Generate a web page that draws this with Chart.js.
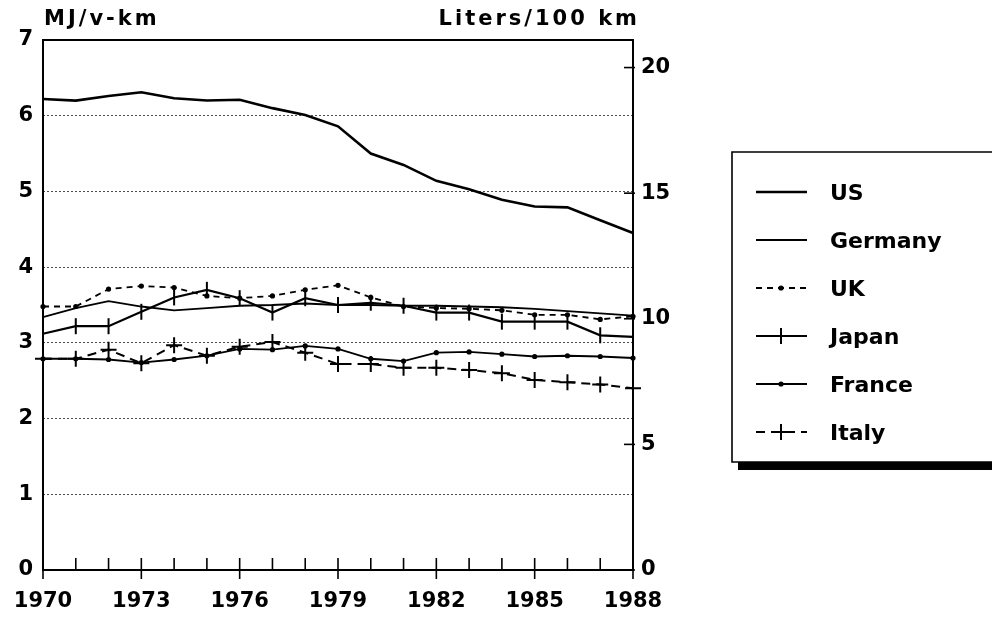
<!DOCTYPE html>
<html>
<head>
<meta charset="utf-8">
<script src="https://cdn.jsdelivr.net/npm/chart.js@4/dist/chart.umd.min.js"></script>
<style>
html,body{margin:0;padding:0;background:#fff;}
#wrap{width:992px;height:621px;}
</style>
</head>
<body>
<div id="wrap"><canvas id="c" width="992" height="621"></canvas></div>
<script>
const years = [1970,1971,1972,1973,1974,1975,1976,1977,1978,1979,1980,1981,1982,1983,1984,1985,1986,1987,1988];
const usValues      = [6.22,6.20,6.26,6.31,6.23,6.20,6.21,6.10,6.01,5.86,5.50,5.35,5.14,5.03,4.89,4.80,4.79,4.62,4.45];
const germanyValues = [3.34,3.46,3.55,3.48,3.43,3.46,3.49,3.50,3.52,3.50,3.50,3.49,3.49,3.48,3.47,3.45,3.42,3.39,3.36];
const ukValues      = [3.48,3.48,3.71,3.75,3.73,3.62,3.59,3.62,3.70,3.76,3.60,3.48,3.46,3.45,3.43,3.37,3.37,3.31,3.35];
const japanValues   = [3.12,3.22,3.22,3.41,3.60,3.70,3.59,3.40,3.59,3.50,3.53,3.49,3.40,3.40,3.28,3.28,3.28,3.10,3.08];
const franceValues  = [2.79,2.79,2.78,2.74,2.78,2.83,2.92,2.91,2.96,2.92,2.79,2.76,2.87,2.88,2.85,2.82,2.83,2.82,2.80];
const italyValues   = [2.79,2.79,2.91,2.73,2.97,2.83,2.95,3.01,2.87,2.72,2.72,2.67,2.67,2.64,2.60,2.51,2.48,2.45,2.40];
const seriesNames = ['US','Germany','UK','Japan','France','Italy'];
const leftTicks  = [0,1,2,3,4,5,6,7];
const rightTicks = [0,5,10,15,20];
const leftTitle = 'MJ/v-km';
const rightTitle = 'Liters/100 km';
const MJ_PER_LITER_KM = 0.3318; // 1 L/100km in MJ/km

const FONT = 'DejaVu Sans';
Chart.defaults.font.family = FONT;
Chart.defaults.color = '#000';

const black = '#000';
const datasets = [
  {label: seriesNames[0], data: usValues, borderColor: black, borderWidth: 2.6, pointRadius: 0, tension: 0},
  {label: seriesNames[1], data: germanyValues, borderColor: black, borderWidth: 1.8, pointRadius: 0},
  {label: seriesNames[2], data: ukValues, borderColor: black, borderWidth: 1.8, borderDash: [6,5],
    pointStyle: 'circle', pointRadius: 2.6, pointBackgroundColor: black, pointBorderColor: black, pointBorderWidth: 0},
  {label: seriesNames[3], data: japanValues, borderColor: black, borderWidth: 2.2,
    pointStyle: 'line', pointRotation: 90, pointRadius: 8, pointBorderColor: black, pointBorderWidth: 2},
  {label: seriesNames[4], data: franceValues, borderColor: black, borderWidth: 1.8,
    pointStyle: 'circle', pointRadius: 2.6, pointBackgroundColor: black, pointBorderColor: black, pointBorderWidth: 0},
  {label: seriesNames[5], data: italyValues, borderColor: black, borderWidth: 2, borderDash: [9,6],
    pointStyle: 'cross', pointRadius: 8, pointBorderColor: black, pointBorderWidth: 2}
];
datasets.forEach(d => { d.fill = false; d.clip = false; d.yAxisID = 'y'; d.pointHoverRadius = d.pointRadius; });

function drawMarker(ctx, ds, x, y) {
  ctx.save();
  ctx.setLineDash([]);
  ctx.strokeStyle = black; ctx.fillStyle = black;
  if (ds.pointStyle === 'circle' && ds.pointRadius > 0) {
    ctx.beginPath(); ctx.arc(x, y, ds.pointRadius, 0, Math.PI*2); ctx.fill();
  } else if (ds.pointStyle === 'line') {
    ctx.lineWidth = ds.pointBorderWidth;
    ctx.beginPath(); ctx.moveTo(x, y - ds.pointRadius); ctx.lineTo(x, y + ds.pointRadius); ctx.stroke();
  } else if (ds.pointStyle === 'cross') {
    ctx.lineWidth = ds.pointBorderWidth;
    ctx.beginPath(); ctx.moveTo(x, y - ds.pointRadius); ctx.lineTo(x, y + ds.pointRadius);
    ctx.moveTo(x - ds.pointRadius, y); ctx.lineTo(x + ds.pointRadius, y); ctx.stroke();
  }
  ctx.restore();
}

const decor = {
  id: 'decor',
  afterDatasetsDraw(chart) {
    const {ctx, chartArea: a, scales} = chart;
    const xs = scales.x, y2 = scales.y2;
    ctx.save();
    // frame
    ctx.strokeStyle = black; ctx.lineWidth = 2; ctx.setLineDash([]);
    ctx.strokeRect(a.left, a.top, a.right - a.left, a.bottom - a.top);
    // x ticks
    ctx.lineWidth = 1.6;
    years.forEach((yr, i) => {
      const px = xs.getPixelForValue(i);
      const major = (yr - years[0]) % 3 === 0;
      ctx.beginPath();
      ctx.moveTo(px, a.bottom - 12);
      ctx.lineTo(px, a.bottom + (major ? 9 : 0));
      ctx.stroke();
    });
    // right ticks
    rightTicks.forEach(v => {
      const py = y2.getPixelForValue(v);
      ctx.beginPath(); ctx.moveTo(a.right - 9, py); ctx.lineTo(a.right + 2, py); ctx.stroke();
    });
    // titles
    ctx.fillStyle = black;
    ctx.font = 'bold 21px ' + FONT;
    ctx.letterSpacing = '3px';
    ctx.textBaseline = 'alphabetic';
    ctx.textAlign = 'left';
    ctx.fillText(leftTitle, a.left + 1, 25);
    ctx.textAlign = 'right';
    ctx.fillText(rightTitle, a.right + 7, 25);
    ctx.letterSpacing = '0px';
    // legend
    const bx = 732, by = 152, bb = 462;
    ctx.lineWidth = 1.6;
    ctx.beginPath();
    ctx.moveTo(1000, by); ctx.lineTo(bx, by); ctx.lineTo(bx, bb); ctx.lineTo(1000, bb);
    ctx.stroke();
    ctx.fillRect(bx + 6, bb, 1000, 8);
    ctx.font = 'bold 22px ' + FONT;
    ctx.textAlign = 'left';
    ctx.textBaseline = 'middle';
    chart.data.datasets.forEach((ds, i) => {
      const yy = 192 + i * 48;
      ctx.save();
      ctx.lineWidth = ds.borderWidth;
      ctx.setLineDash(ds.borderDash || []);
      ctx.beginPath(); ctx.moveTo(756, yy); ctx.lineTo(807, yy); ctx.stroke();
      ctx.restore();
      drawMarker(ctx, ds, 781, yy);
      ctx.fillText(ds.label, 830, yy + 2);
    });
    ctx.restore();
  }
};

new Chart(document.getElementById('c'), {
  type: 'line',
  data: {labels: years.map(String), datasets},
  options: {
    responsive: false,
    devicePixelRatio: 1,
    animation: false,
    events: [],
    layout: {padding: {left: 0, right: 322, top: 40, bottom: 0}},
    plugins: {legend: {display: false}, tooltip: {enabled: false}},
    scales: {
      x: {
        type: 'category',
        offset: false,
        grid: {display: false, drawTicks: false},
        border: {display: false},
        afterFit: s => { s.height = 51; s.paddingLeft = 0; s.paddingRight = 0; },
        ticks: {
          autoSkip: false, maxRotation: 0, padding: 19,
          font: {size: 21, weight: 'bold'},
          callback: (v, i) => ((years[i] - years[0]) % 3 === 0 ? String(years[i]) : '')
        }
      },
      y: {
        position: 'left', min: leftTicks[0], max: leftTicks[leftTicks.length - 1],
        afterBuildTicks: s => { s.ticks = leftTicks.map(v => ({value: v})); },
        afterFit: s => { s.width = 43; },
        grid: {
          drawTicks: false, lineWidth: 1,
          color: c => (c.tick && (c.tick.value === 0 || c.tick.value === 7)) ? 'rgba(0,0,0,0)' : 'rgba(0,0,0,0.7)'
        },
        border: {display: false, dash: [2,2]},
        ticks: {padding: 10, font: {size: 21, weight: 'bold'}}
      },
      y2: {
        position: 'right', display: true, min: 0, max: 7 / MJ_PER_LITER_KM,
        afterBuildTicks: s => { s.ticks = rightTicks.map(v => ({value: v})); },
        afterFit: s => { s.width = 37; },
        grid: {display: false, drawTicks: false},
        border: {display: false},
        ticks: {padding: 8, font: {size: 21, weight: 'bold'}}
      }
    }
  },
  plugins: [decor]
});
</script>
</body>
</html>
